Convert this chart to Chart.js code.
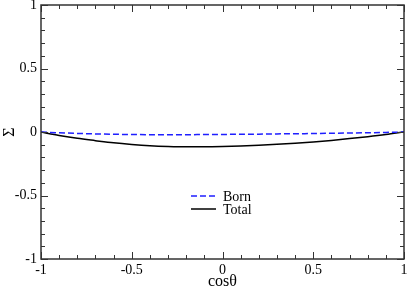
<!DOCTYPE html>
<html>
<head>
<meta charset="utf-8">
<script src="https://cdn.jsdelivr.net/npm/chart.js@4"></script>
<style>
  html, body { margin: 0; padding: 0; background: #fff; }
  #wrap { width: 409px; height: 291px; }
</style>
</head>
<body>
<div id="wrap"><canvas id="sigmaChart" width="409" height="291"></canvas></div>
<script>
// cos(theta) sample points and the two curves
const cosTheta = [-1, -0.9, -0.8, -0.7, -0.6, -0.5, -0.4, -0.3, -0.2, -0.1, 0,
                  0.1, 0.2, 0.3, 0.4, 0.5, 0.6, 0.7, 0.8, 0.9, 1];
const bornVals = [0, -0.006, -0.011, -0.015, -0.018, -0.02, -0.021, -0.021, -0.021, -0.02, -0.019,
                  -0.018, -0.017, -0.015, -0.014, -0.012, -0.01, -0.008, -0.006, -0.003, 0];
const totalVals = [0, -0.027, -0.05, -0.068, -0.085, -0.098, -0.108, -0.114, -0.117, -0.117, -0.115,
                   -0.111, -0.105, -0.097, -0.088, -0.078, -0.066, -0.052, -0.037, -0.02, 0];
const xTicks = [-1, -0.5, 0, 0.5, 1];
const yTicks = [-1, -0.5, 0, 0.5, 1];

const axisColor = '#333333';
const serif = '"Liberation Serif", "DejaVu Serif", serif';

// frame with inward ticks on all four sides (xmgrace style)
const frameTicks = {
    id: 'frameTicks',
    afterDraw(chart) {
        const ctx = chart.ctx;
        const a = chart.chartArea;
        const xs = chart.scales.x, ys = chart.scales.y;
        ctx.save();
        ctx.strokeStyle = axisColor;
        ctx.lineWidth = 1.5;
        ctx.strokeRect(a.left, a.top, a.right - a.left, a.bottom - a.top);
        ctx.lineWidth = 1;
        ctx.beginPath();
        for (let i = -10; i <= 10; i++) {
            const v = i / 10;
            const len = (i % 5 === 0) ? 7 : 4;
            const px = Math.round(xs.getPixelForValue(v)) + 0.5;
            ctx.moveTo(px, a.bottom); ctx.lineTo(px, a.bottom - len);
            ctx.moveTo(px, a.top); ctx.lineTo(px, a.top + len);
            const py = Math.round(ys.getPixelForValue(v)) + 0.5;
            ctx.moveTo(a.left, py); ctx.lineTo(a.left + len, py);
            ctx.moveTo(a.right, py); ctx.lineTo(a.right - len, py);
        }
        ctx.stroke();

        // legend inside the plot
        const items = chart.data.datasets;
        ctx.font = '14px ' + serif;
        ctx.textBaseline = 'middle';
        items.forEach((ds, k) => {
            const y = 196 + k * 13;
            ctx.strokeStyle = ds.borderColor;
            ctx.lineWidth = 1.5;
            ctx.setLineDash(ds.borderDash || []);
            ctx.beginPath();
            ctx.moveTo(191, y); ctx.lineTo(216, y);
            ctx.stroke();
            ctx.setLineDash([]);
            ctx.fillStyle = '#000';
            ctx.fillText(ds.label, 223, y + 1);
        });
        ctx.restore();
    }
};

new Chart(document.getElementById('sigmaChart'), {
    type: 'line',
    data: {
        datasets: [{
            label: 'Born',
            data: cosTheta.map((c, i) => ({ x: c, y: bornVals[i] })),
            borderColor: '#1f1fff',
            borderWidth: 1.5,
            borderDash: [6, 3],
            pointRadius: 0,
            cubicInterpolationMode: 'monotone',
            fill: false
        }, {
            label: 'Total',
            data: cosTheta.map((c, i) => ({ x: c, y: totalVals[i] })),
            borderColor: '#000000',
            borderWidth: 1.5,
            pointRadius: 0,
            cubicInterpolationMode: 'monotone',
            fill: false
        }]
    },
    options: {
        responsive: false,
        animation: false,
        layout: { padding: { left: 0, right: 5, top: 5, bottom: 0 } },
        plugins: {
            legend: { display: false },
            tooltip: { enabled: false }
        },
        scales: {
            x: {
                type: 'linear',
                min: -1, max: 1,
                afterFit: s => { s.height = 32; s.paddingLeft = 0; s.paddingRight = 0; },
                afterBuildTicks: s => { s.ticks = xTicks.map(v => ({ value: v })); },
                grid: { display: false, drawTicks: false },
                border: { display: false },
                ticks: {
                    padding: 3,
                    color: '#000',
                    font: { family: serif, size: 14 },
                    callback: v => String(v)
                },
                title: {
                    display: true,
                    text: 'cosθ',
                    color: '#000',
                    font: { family: serif, size: 16 },
                    padding: { top: -2, bottom: 0 }
                }
            },
            y: {
                type: 'linear',
                min: -1, max: 1,
                afterFit: s => { s.width = 41; s.paddingTop = 0; s.paddingBottom = 0; },
                afterBuildTicks: s => { s.ticks = yTicks.map(v => ({ value: v })); },
                grid: { display: false, drawTicks: false },
                border: { display: false },
                ticks: {
                    padding: 4,
                    color: '#000',
                    font: { family: serif, size: 14 },
                    callback: v => String(v)
                },
                title: {
                    display: true,
                    text: 'Σ',
                    color: '#000',
                    font: { family: serif, size: 16 },
                    padding: { top: 0, bottom: 2 }
                }
            }
        }
    },
    plugins: [frameTicks]
});
</script>
</body>
</html>
